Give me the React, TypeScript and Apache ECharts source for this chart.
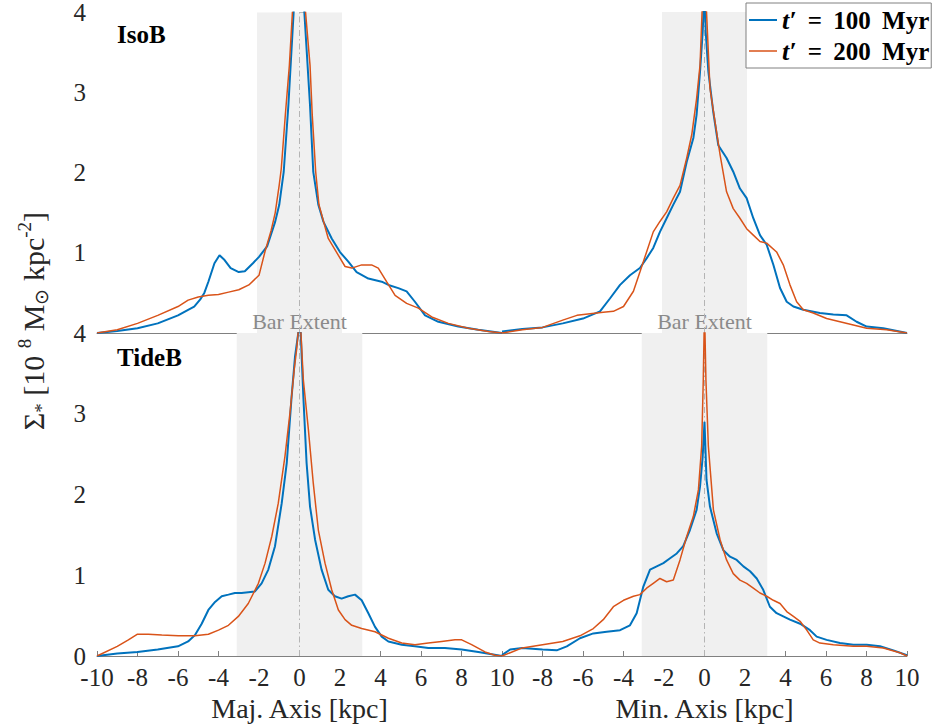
import React, { useEffect, useRef } from "react";
import * as echarts from "echarts";

const SERIF = "'Liberation Serif', 'Times New Roman', serif";
const BLUE = "#0072BD";
const ORANGE = "#D95319";
const TEXT = "#262626";

// x ticks: -10..10 step 2 ; y ticks: 0..4 step 1
const xMin = -10;
const xMax = 10;
const xStep = 2;
const yMin = 0;
const yMax = 4;
const yStep = 1;

const panelNames = ["IsoB", "", "TideB", ""];
const axisNames = ["", "", "Maj. Axis [kpc]", "Min. Axis [kpc]"];
const barExtent = [2.1, 2.1, 3.1, 3.1];
const legendNames = ["t100", "t200"];
const legendLabels = ["{i|t′}\u2009 = \u2009100\u2009 Myr", "{i|t′}\u2009 = \u2009200\u2009 Myr"];

// IsoB, major axis, t' = 100 Myr
const isoMaj100 = [
  [-10, 0], [-9, 0.025], [-8, 0.06], [-7, 0.12], [-6, 0.22], [-5.5, 0.29], [-5.2, 0.33],
  [-4.9, 0.42], [-4.7, 0.5], [-4.5, 0.64], [-4.2, 0.87], [-3.95, 0.97], [-3.7, 0.91],
  [-3.4, 0.81], [-3.0, 0.76], [-2.7, 0.77], [-2.3, 0.87], [-2.0, 0.95], [-1.6, 1.08],
  [-1.2, 1.39], [-1.0, 1.6], [-0.78, 2.01], [-0.55, 2.84], [-0.29, 4.0], [-0.1, 5.2],
  [0, 5.6], [0.1, 5.2], [0.24, 4.0], [0.52, 2.84], [0.68, 2.01], [0.93, 1.6], [1.18, 1.39],
  [1.59, 1.18], [2.0, 1.01], [2.41, 0.89], [2.82, 0.76], [3.4, 0.68], [4.06, 0.64],
  [4.39, 0.6], [4.88, 0.56], [5.29, 0.52], [5.7, 0.39], [6.2, 0.22], [6.86, 0.14],
  [7.84, 0.08], [8.83, 0.04], [10, 0],
];
// IsoB, major axis, t' = 200 Myr
const isoMaj200 = [
  [-10, 0], [-9, 0.04], [-8, 0.12], [-7, 0.22], [-6, 0.33], [-5.5, 0.41], [-5, 0.45],
  [-4.5, 0.47], [-4, 0.48], [-3.5, 0.51], [-3, 0.54], [-2.5, 0.6], [-2, 0.72], [-1.7, 1.02],
  [-1.4, 1.28], [-1.2, 1.5], [-1.0, 1.85], [-0.9, 2.05], [-0.7, 2.72], [-0.5, 3.34],
  [-0.35, 4.0], [-0.1, 5.3], [0, 5.6], [0.1, 5.3], [0.3, 4.0], [0.52, 3.34], [0.63, 2.72],
  [0.8, 2.01], [0.96, 1.6], [1.42, 1.18], [1.92, 0.97], [2.25, 0.83], [2.58, 0.81],
  [3.07, 0.85], [3.56, 0.85], [3.89, 0.81], [4.3, 0.64], [4.72, 0.47], [5.29, 0.37],
  [5.87, 0.31], [6.53, 0.2], [7.35, 0.12], [8.34, 0.06], [9.33, 0.02], [10, 0],
];
// IsoB, minor axis, t' = 100 Myr
const isoMin100 = [
  [-10, 0.02], [-9, 0.05], [-8, 0.07], [-7, 0.12], [-6, 0.18], [-5.16, 0.27], [-4.67, 0.43],
  [-4.17, 0.6], [-3.68, 0.72], [-3.19, 0.81], [-2.86, 0.93], [-2.53, 1.06], [-2.2, 1.26],
  [-1.87, 1.43], [-1.54, 1.6], [-1.21, 1.76], [-0.88, 2.13], [-0.55, 2.43], [-0.39, 2.72],
  [-0.22, 3.26], [-0.09, 3.75], [0, 4.3], [0.06, 3.75], [0.19, 3.26], [0.43, 2.76],
  [0.68, 2.34], [1.09, 2.18], [1.42, 2.01], [1.75, 1.8], [2.08, 1.68], [2.41, 1.43],
  [2.74, 1.22], [3.07, 1.1], [3.4, 0.85], [3.73, 0.56], [4.06, 0.39], [4.39, 0.33],
  [4.88, 0.29], [5.7, 0.25], [6.36, 0.23], [7.02, 0.22], [7.51, 0.14], [8.01, 0.08],
  [8.83, 0.06], [10, 0],
];
// IsoB, minor axis, t' = 200 Myr
const isoMin200 = [
  [-10, 0], [-9, 0.04], [-8, 0.07], [-7, 0.16], [-6.3, 0.22], [-5.65, 0.24], [-5, 0.26],
  [-4.5, 0.27], [-4, 0.33], [-3.51, 0.52], [-3.19, 0.76], [-2.86, 1.01], [-2.53, 1.26],
  [-2.2, 1.39], [-1.87, 1.51], [-1.54, 1.68], [-1.21, 1.84], [-0.88, 2.18], [-0.63, 2.47],
  [-0.39, 2.92], [-0.22, 3.34], [-0.12, 4.0], [0, 4.5], [0.1, 4.0], [0.27, 3.05],
  [0.52, 2.63], [0.77, 2.22], [1.09, 1.76], [1.42, 1.55], [1.75, 1.43], [2.08, 1.3],
  [2.41, 1.22], [2.74, 1.14], [3.07, 1.12], [3.56, 1.01], [3.89, 0.85], [4.22, 0.6],
  [4.55, 0.39], [4.88, 0.29], [5.37, 0.25], [6.03, 0.18], [6.69, 0.14], [7.35, 0.1],
  [8.01, 0.06], [9, 0.04], [10, 0],
];
// TideB, major axis, t' = 100 Myr
const tideMaj100 = [
  [-10, 0], [-9, 0.03], [-8, 0.05], [-7, 0.08], [-6, 0.12], [-5.5, 0.18], [-5.16, 0.26],
  [-4.83, 0.4], [-4.5, 0.57], [-4.17, 0.67], [-3.84, 0.74], [-3.51, 0.76], [-3.19, 0.78],
  [-2.86, 0.78], [-2.53, 0.79], [-2.2, 0.8], [-1.87, 0.9], [-1.54, 1.07], [-1.21, 1.36],
  [-0.88, 1.89], [-0.63, 2.39], [-0.39, 3.21], [-0.22, 3.71], [-0.06, 4.0], [0, 4.6],
  [0.06, 4.0], [0.19, 3.21], [0.35, 2.39], [0.52, 1.85], [0.77, 1.44], [1.09, 1.07],
  [1.42, 0.82], [1.75, 0.74], [2.08, 0.71], [2.41, 0.74], [2.74, 0.76], [3.07, 0.69],
  [3.4, 0.53], [3.73, 0.36], [4.06, 0.24], [4.39, 0.18], [5.05, 0.14], [5.7, 0.12],
  [6.36, 0.1], [7.18, 0.1], [8.01, 0.08], [8.83, 0.05], [10, 0],
];
// TideB, major axis, t' = 200 Myr
const tideMaj200 = [
  [-10, 0], [-9, 0.12], [-8.45, 0.2], [-8, 0.27], [-7.46, 0.27], [-6.8, 0.26], [-5.98, 0.25],
  [-5.16, 0.25], [-4.5, 0.27], [-4, 0.32], [-3.51, 0.38], [-3.02, 0.49], [-2.53, 0.65],
  [-2.03, 0.9], [-1.7, 1.15], [-1.37, 1.48], [-1.05, 1.89], [-0.72, 2.47], [-0.47, 3.01],
  [-0.26, 3.55], [-0.14, 3.8], [0, 4.2], [0.07, 4.0], [0.19, 3.42], [0.44, 2.8], [0.68, 2.14],
  [0.93, 1.56], [1.26, 1.15], [1.59, 0.82], [1.92, 0.57], [2.25, 0.45], [2.58, 0.38],
  [3.07, 0.34], [3.73, 0.3], [4.39, 0.22], [5.05, 0.16], [5.7, 0.14], [6.36, 0.16],
  [7.02, 0.18], [7.68, 0.2], [8.01, 0.2], [8.5, 0.14], [9.16, 0.05], [9.65, 0.01], [10, 0],
];
// TideB, minor axis, t' = 100 Myr
const tideMin100 = [
  [-10, 0.01], [-9.6, 0.08], [-9, 0.1], [-8, 0.08], [-7.3, 0.07], [-6.8, 0.12], [-6.15, 0.22],
  [-5.49, 0.28], [-4.83, 0.3], [-4.17, 0.32], [-3.68, 0.38], [-3.35, 0.53], [-3.02, 0.86],
  [-2.69, 1.07], [-2.36, 1.11], [-2.03, 1.15], [-1.7, 1.21], [-1.37, 1.27], [-1.05, 1.36],
  [-0.72, 1.56], [-0.39, 1.81], [-0.22, 2.1], [-0.09, 2.47], [0, 2.9], [0.1, 2.18],
  [0.27, 1.85], [0.6, 1.52], [0.93, 1.31], [1.26, 1.23], [1.59, 1.19], [1.92, 1.11],
  [2.25, 1.05], [2.58, 0.96], [2.9, 0.82], [3.23, 0.61], [3.56, 0.53], [3.89, 0.49],
  [4.22, 0.45], [4.72, 0.4], [5.21, 0.32], [5.54, 0.24], [6.03, 0.2], [6.69, 0.16],
  [7.35, 0.14], [8.01, 0.14], [8.67, 0.12], [9.33, 0.07], [10, 0.01],
];
// TideB, minor axis, t' = 200 Myr
const tideMin200 = [
  [-10, 0], [-9, 0.1], [-8, 0.14], [-7, 0.18], [-6.15, 0.25], [-5.49, 0.34], [-5, 0.45],
  [-4.5, 0.61], [-4, 0.69], [-3.51, 0.74], [-3.19, 0.76], [-2.86, 0.84], [-2.53, 0.9],
  [-2.2, 0.96], [-1.87, 0.92], [-1.54, 0.94], [-1.21, 1.19], [-0.88, 1.48], [-0.55, 1.73],
  [-0.3, 2.06], [-0.14, 2.6], [-0.06, 3.42], [0, 4.3], [0.07, 3.42], [0.19, 2.6],
  [0.44, 1.81], [0.77, 1.44], [1.09, 1.19], [1.42, 1.02], [1.75, 0.94], [2.08, 0.9],
  [2.41, 0.84], [2.74, 0.78], [3.07, 0.74], [3.4, 0.69], [3.73, 0.65], [4.06, 0.55],
  [4.39, 0.49], [4.72, 0.43], [5.05, 0.32], [5.37, 0.2], [5.7, 0.16], [6.36, 0.14],
  [7.35, 0.12], [8.01, 0.12], [8.83, 0.1], [9.65, 0.04], [10, 0],
];

const series100 = [isoMaj100, isoMin100, tideMaj100, tideMin100];
const series200 = [isoMaj200, isoMin200, tideMaj200, tideMin200];

const grids = [
  { left: 97, top: 12, width: 405, height: 321 },
  { left: 502, top: 12, width: 405, height: 321 },
  { left: 97, top: 333, width: 405, height: 323 },
  { left: 502, top: 333, width: 405, height: 323 },
];

function buildOption() {
  const xAxis: any[] = [];
  const yAxis: any[] = [];
  const series: any[] = [];
  for (let i = 0; i < 4; i++) {
    const bottom = i >= 2;
    const leftCol = i % 2 === 0;
    xAxis.push({
      gridIndex: i,
      type: "value",
      min: xMin,
      max: xMax,
      interval: xStep,
      axisLine: { show: true, onZero: false, lineStyle: { color: "#808080", width: 1 } },
      axisTick: { show: bottom, inside: true, length: 5, lineStyle: { color: "#808080" } },
      axisLabel: {
        show: bottom,
        fontSize: 25,
        fontFamily: SERIF,
        color: TEXT,
        margin: 9,
        showMinLabel: i !== 3,
      },
      splitLine: { show: false },
      name: axisNames[i],
      nameLocation: "middle",
      nameGap: 38,
      nameTextStyle: { fontSize: 28, fontFamily: SERIF, color: TEXT },
    });
    yAxis.push({
      gridIndex: i,
      type: "value",
      min: yMin,
      max: yMax,
      interval: yStep,
      axisLine: { show: true, lineStyle: { color: leftCol ? "#808080" : "#c4c4c4", width: 1 } },
      axisTick: { show: leftCol, inside: true, length: 5, lineStyle: { color: "#808080" } },
      axisLabel: {
        show: leftCol,
        fontSize: 25,
        fontFamily: SERIF,
        color: TEXT,
        margin: 11,
        showMinLabel: i !== 0,
      },
      splitLine: { show: false },
    });
    const top = i < 2;
    series.push({
      type: "line",
      xAxisIndex: i,
      yAxisIndex: i,
      data: [[0, 0]],
      symbol: "none",
      silent: true,
      z: 0,
      lineStyle: { opacity: 0 },
      markArea: {
        silent: true,
        itemStyle: { color: "#f0f0f0" },
        label: top
          ? {
              show: true,
              position: "insideBottom",
              formatter: "Bar Extent",
              color: "#8a8a8a",
              fontSize: 22,
              fontFamily: SERIF,
              distance: 1,
            }
          : { show: false },
        data: [[{ xAxis: -barExtent[i], yAxis: yMin }, { xAxis: barExtent[i], yAxis: yMax }]],
      },
    });
    series.push({
      type: "line",
      xAxisIndex: i,
      yAxisIndex: i,
      data: [[0, yMin], [0, yMax]],
      symbol: "none",
      silent: true,
      z: 1,
      lineStyle: { color: "#b4b4b4", width: 1, type: [6, 3, 1.5, 3] },
    });
    series.push({
      name: legendNames[0],
      type: "line",
      xAxisIndex: i,
      yAxisIndex: i,
      data: series100[i],
      symbol: "none",
      clip: true,
      z: 2,
      lineStyle: { color: BLUE, width: 2 },
      itemStyle: { color: BLUE },
    });
    series.push({
      name: legendNames[1],
      type: "line",
      xAxisIndex: i,
      yAxisIndex: i,
      data: series200[i],
      symbol: "none",
      clip: true,
      z: 3,
      lineStyle: { color: ORANGE, width: 1.5 },
      itemStyle: { color: ORANGE },
    });
  }

  const graphic: any[] = [
    {
      type: "text",
      left: 117,
      top: 22,
      style: { text: panelNames[0], font: `bold 25px ${SERIF}`, fill: "#000" },
    },
    {
      type: "text",
      left: 117,
      top: 345,
      style: { text: panelNames[2], font: `bold 25px ${SERIF}`, fill: "#000" },
    },
    {
      type: "text",
      x: 33,
      y: 321,
      rotation: Math.PI / 2,
      style: {
        text: "Σ{sub|*} [10 {sup|8} M{sub|⊙} kpc{sup|-2}]",
        fontFamily: SERIF,
        fontSize: 30,
        lineHeight: 36,
        fill: TEXT,
        align: "center",
        verticalAlign: "middle",
        rich: {
          sup: { fontFamily: SERIF, fontSize: 19, lineHeight: 19, verticalAlign: "top", fill: TEXT },
          sub: { fontFamily: SERIF, fontSize: 19, lineHeight: 19, verticalAlign: "bottom", fill: TEXT },
        },
      },
    },
  ];

  return {
    animation: false,
    backgroundColor: "#fff",
    grid: grids,
    xAxis,
    yAxis,
    series,
    graphic,
    legend: {
      data: [
        { name: legendNames[0], icon: "path://M0,0h56v4h-56z" },
        { name: legendNames[1], icon: "path://M0,0h56v3h-56z" },
      ],
      orient: "vertical",
      left: 746,
      top: 3,
      backgroundColor: "#fff",
      borderColor: "#808080",
      borderWidth: 1,
      borderRadius: 0,
      padding: [4, 2, 4, 3],
      itemGap: 5,
      itemWidth: 28,
      itemHeight: 14,
      symbolKeepAspect: true,
      selectedMode: false,
      formatter: (n: string) => (n === legendNames[0] ? legendLabels[0] : legendLabels[1]),
      textStyle: {
        fontFamily: SERIF,
        fontSize: 25,
        fontWeight: "bold",
        color: "#000",
        rich: {
          i: { fontFamily: SERIF, fontSize: 26, fontStyle: "italic", fontWeight: "bold", color: "#000" },
        },
      },
    },
  };
}

export default function App() {
  const ref = useRef<HTMLDivElement>(null);
  useEffect(() => {
    if (!ref.current) return;
    const chart = echarts.init(ref.current, null, { renderer: "svg" });
    chart.setOption(buildOption() as any);
    return () => chart.dispose();
  }, []);
  return <div ref={ref} style={{ width: 936, height: 727, position: "absolute", left: 0, top: 0 }} />;
}
